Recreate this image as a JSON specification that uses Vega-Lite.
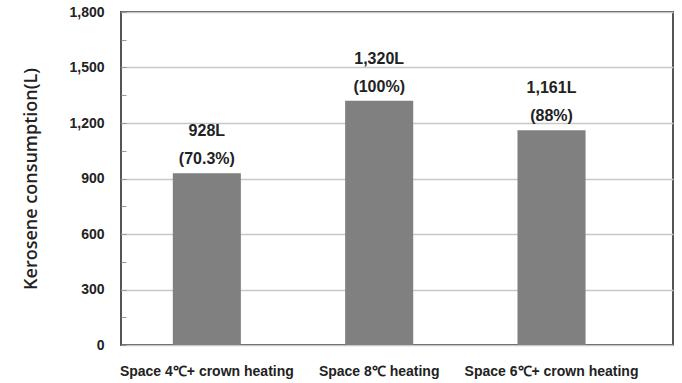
{
  "$schema": "https://vega.github.io/schema/vega-lite/v6.json",
  "autosize": "none",
  "width": 552,
  "height": 333,
  "padding": {"left": 121, "top": 12, "right": 9, "bottom": 38},
  "background": "white",
  "config": {
    "view": {"stroke": "#555555", "strokeWidth": 2},
    "font": "Liberation Sans"
  },
  "data": {
    "values": [
      {"case": "Space 4℃+ crown heating", "consumption": 928, "label": "928L\n(70.3%)"},
      {"case": "Space 8℃  heating", "consumption": 1320, "label": "1,320L\n(100%)"},
      {"case": "Space 6℃+ crown heating", "consumption": 1161, "label": "1,161L\n(88%)"}
    ]
  },
  "encoding": {
    "x": {
      "field": "case",
      "type": "nominal",
      "sort": null,
      "scale": {"paddingInner": 0.605, "paddingOuter": 0.404, "align": 0.372},
      "axis": {
        "title": null,
        "labelAngle": 0,
        "domain": false,
        "ticks": false,
        "labelPadding": 19,
        "labelFontSize": 14,
        "labelFontWeight": "bold",
        "labelColor": "#222222",
        "labelFont": "Liberation Sans"
      }
    },
    "y": {
      "field": "consumption",
      "type": "quantitative",
      "scale": {"domain": [0, 1800], "nice": false},
      "axis": {
        "title": "Kerosene consumption(L)",
        "titleFontSize": 18,
        "titleFontWeight": 600,
        "titleColor": "#222222",
        "titleFont": "Open Sans",
        "titlePadding": 28,
        "values": [0, 150, 300, 450, 600, 750, 900, 1050, 1200, 1350, 1500, 1650, 1800],
        "labelExpr": "datum.value % 300 == 0 ? format(datum.value, ',') : ''",
        "labelFontSize": 14,
        "labelFontWeight": "bold",
        "labelColor": "#222222",
        "labelPadding": 22,
        "labelBaseline": "middle",
        "domain": false,
        "tickSize": -5,
        "tickColor": "#999999",
        "grid": true,
        "gridColor": "#c8c8c8",
        "gridWidth": 1.5,
        "gridOpacity": {"condition": {"test": "datum.value % 300 == 0", "value": 1}, "value": 0}
      }
    }
  },
  "layer": [
    {"mark": {"type": "bar", "color": "#808080"}},
    {
      "mark": {
        "type": "text",
        "lineBreak": "\n",
        "baseline": "bottom",
        "dy": -34,
        "fontSize": 16,
        "fontWeight": "bold",
        "color": "#222222",
        "lineHeight": 28
      },
      "encoding": {"text": {"field": "label"}}
    }
  ]
}
